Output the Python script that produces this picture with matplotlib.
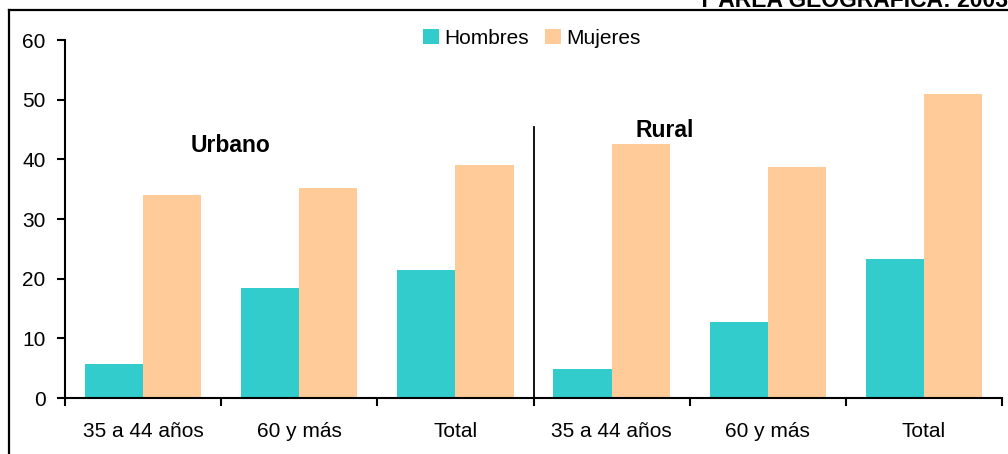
import matplotlib
matplotlib.use("Agg")
import matplotlib.pyplot as plt
from matplotlib.lines import Line2D
import numpy as np

plt.rcParams['font.family'] = ['Liberation Sans', 'DejaVu Sans']

categories = ["35 a 44 años", "60 y más", "Total", "35 a 44 años", "60 y más", "Total"]
hombres = [5.7, 18.4, 21.4, 4.9, 12.7, 23.3]
mujeres = [34.0, 35.2, 39.0, 42.5, 38.7, 50.9]
series_names = ["Hombres", "Mujeres"]
group_labels = ["Urbano", "Rural"]
y_ticks = [0, 10, 20, 30, 40, 50, 60]

col_h = "#33CCCC"
col_m = "#FFCC99"

W, H = 1008, 454
fig = plt.figure(figsize=(W / 100, H / 100), dpi=100)
ax = fig.add_axes([65 / W, 1 - 398 / H, (1002 - 65) / W, (398 - 40) / H])

x = np.arange(len(categories)) + 0.5
bw = 0.372
ax.bar(x - bw / 2, hombres, bw, color=col_h, label=series_names[0], zorder=2)
ax.bar(x + bw / 2, mujeres, bw, color=col_m, label=series_names[1], zorder=2)

ax.set_xlim(0, len(categories))
ax.set_ylim(0, 60)
ax.set_yticks(y_ticks)
ax.set_xticks(np.arange(len(categories) + 1))
ax.set_xticklabels([])
ax.set_xticks(x, minor=True)
ax.set_xticklabels(categories, minor=True)
ax.tick_params(axis='x', which='minor', length=0, pad=17, labelsize=15)
ax.tick_params(axis='x', which='major', length=6, width=1.5, direction='out')
ax.tick_params(axis='y', length=6, width=1.5, direction='out', labelsize=15, pad=8)

for s in ("top", "right"):
    ax.spines[s].set_visible(False)
for s in ("left", "bottom"):
    ax.spines[s].set_linewidth(1.5)
    ax.spines[s].set_zorder(3)

# separator between urban and rural groups
ax.plot([3, 3], [0, 45.4], color="black", lw=1.3, zorder=3, clip_on=False)

ax.text(1.06, 42.4, group_labels[0], ha='center', va='center',
        fontsize=16.5, fontweight='bold')
ax.text(3.84, 44.9, group_labels[1], ha='center', va='center',
        fontsize=16.5, fontweight='bold')

leg = fig.legend(loc='center', bbox_to_anchor=(532 / W, 1 - 38 / H), ncol=2,
                 frameon=False, fontsize=15, handlelength=0.75,
                 handleheight=0.75, handletextpad=0.25, columnspacing=0.8,
                 borderaxespad=0, borderpad=0)

# frame around the chart area
xb = 8.5 / W
yb = 1 - 9.5 / H
fig.add_artist(Line2D([xb, xb], [0, yb], color="black", lw=1.6,
                      transform=fig.transFigure))
fig.add_artist(Line2D([xb, 1], [yb, yb], color="black", lw=1.6,
                      transform=fig.transFigure))

fig.text(697 / W, 1 - 7 / H, "Y ÁREA GEOGRÁFICA: 2003", ha='left',
         va='baseline', fontsize=16.5, fontweight='bold')

fig.savefig("out.png", dpi=100)
